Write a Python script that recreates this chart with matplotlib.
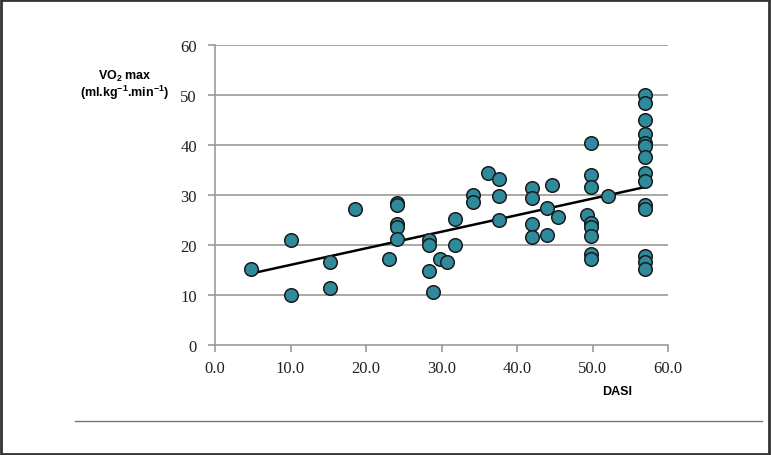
import matplotlib
matplotlib.use("Agg")
import matplotlib.pyplot as plt
from matplotlib.lines import Line2D
from matplotlib.patches import Rectangle

plt.rcParams['mathtext.fontset'] = 'custom'
plt.rcParams['mathtext.rm'] = 'Liberation Sans:bold'
plt.rcParams['mathtext.bf'] = 'Liberation Sans:bold'
plt.rcParams['mathtext.default'] = 'bf'

dasi = [4.8, 10.1, 10.1, 15.2, 15.2, 18.5, 23.0, 24.1, 24.1, 24.1, 24.1, 24.1,
        28.3, 28.3, 28.3, 28.9, 29.8, 30.7, 31.8, 31.8, 34.2, 34.2, 36.2, 37.6,
        37.6, 37.6, 42.0, 42.0, 42.0, 42.0, 44.0, 44.0, 44.7, 45.4, 49.3, 49.8,
        49.8, 49.8, 49.8, 49.8, 49.8, 49.8, 49.8, 52.1,
        57.0, 57.0, 57.0, 57.0, 57.0, 57.0, 57.0, 57.0, 57.0, 57.0, 57.0, 57.0,
        57.0, 57.0]
vo2max = [15.2, 21.0, 10.0, 16.6, 11.4, 27.2, 17.2, 28.4, 28.0, 24.2, 23.6, 21.2,
          21.0, 20.0, 14.8, 10.6, 17.2, 16.6, 25.2, 20.0, 30.0, 28.6, 34.4, 33.2,
          29.8, 25.0, 31.4, 29.4, 24.2, 21.6, 22.0, 27.4, 32.0, 25.6, 26.0, 40.4,
          34.0, 31.6, 24.4, 23.6, 21.8, 18.2, 17.2, 29.8,
          50.0, 48.4, 45.0, 42.2, 40.4, 39.8, 37.6, 34.4, 32.8, 28.0, 27.2, 17.8,
          16.6, 15.2]
trend_x = [4.8, 57.0]
trend_y = [14.3, 31.6]

x_ticks = [0, 10, 20, 30, 40, 50, 60]
x_labels = ['0.0', '10.0', '20.0', '30.0', '40.0', '50.0', '60.0']
y_ticks = [0, 10, 20, 30, 40, 50, 60]
y_labels = ['0', '10', '20', '30', '40', '50', '60']

W, H = 771, 456
fig = plt.figure(figsize=(W / 100, H / 100), dpi=100)
ax = fig.add_axes([215 / W, 1 - 346 / H, (668 - 215) / W, (346 - 46) / H])

grid_c = '#9a9a9a'
for y in y_ticks[1:]:
    ax.axhline(y, color=grid_c, lw=1.2, zorder=1)

ax.plot(trend_x, trend_y, color='black', lw=1.8, zorder=2)
ax.scatter(dasi, vo2max, s=95, c='#2F8A9C', edgecolors='#1a1a1a', linewidths=1.1, zorder=3)

ax.set_xlim(0, 60)
ax.set_ylim(0, 60)
ax.set_xticks(x_ticks)
ax.set_xticklabels(x_labels)
ax.set_yticks(y_ticks)
ax.set_yticklabels(y_labels)
for s in ['top', 'right']:
    ax.spines[s].set_visible(False)
for s in ['left', 'bottom']:
    ax.spines[s].set_color(grid_c)
    ax.spines[s].set_linewidth(1.2)
ax.tick_params(axis='both', colors=grid_c, length=5, width=1.2, direction='out')
for lbl in ax.get_xticklabels() + ax.get_yticklabels():
    lbl.set_fontfamily('Liberation Serif')
    lbl.set_fontsize(12)
    lbl.set_color('#222222')
ax.tick_params(axis='x', pad=6)
ax.tick_params(axis='y', pad=8)

fig.text(125 / W, 1 - 76 / H, 'VO$_2$ max', ha='center', va='center',
         fontsize=9, fontweight='bold', family='Liberation Sans')
fig.text(125 / W, 1 - 93 / H, '(ml.kg$^{-1}$.min$^{-1}$)', ha='center', va='center',
         fontsize=9, fontweight='bold', family='Liberation Sans')
fig.text(617 / W, 1 - 392 / H, 'DASI', ha='center', va='center',
         fontsize=9, fontweight='bold', family='Liberation Sans')

fig.add_artist(Line2D([75 / W, 762 / W], [1 - 422 / H, 1 - 422 / H],
                      transform=fig.transFigure, color='#777777', lw=1.0))
fig.add_artist(Rectangle((0.001, 0.002), 0.997, 0.996, transform=fig.transFigure,
                         fill=False, edgecolor='#333333', lw=2.0))

fig.savefig('out.png', dpi=100)
